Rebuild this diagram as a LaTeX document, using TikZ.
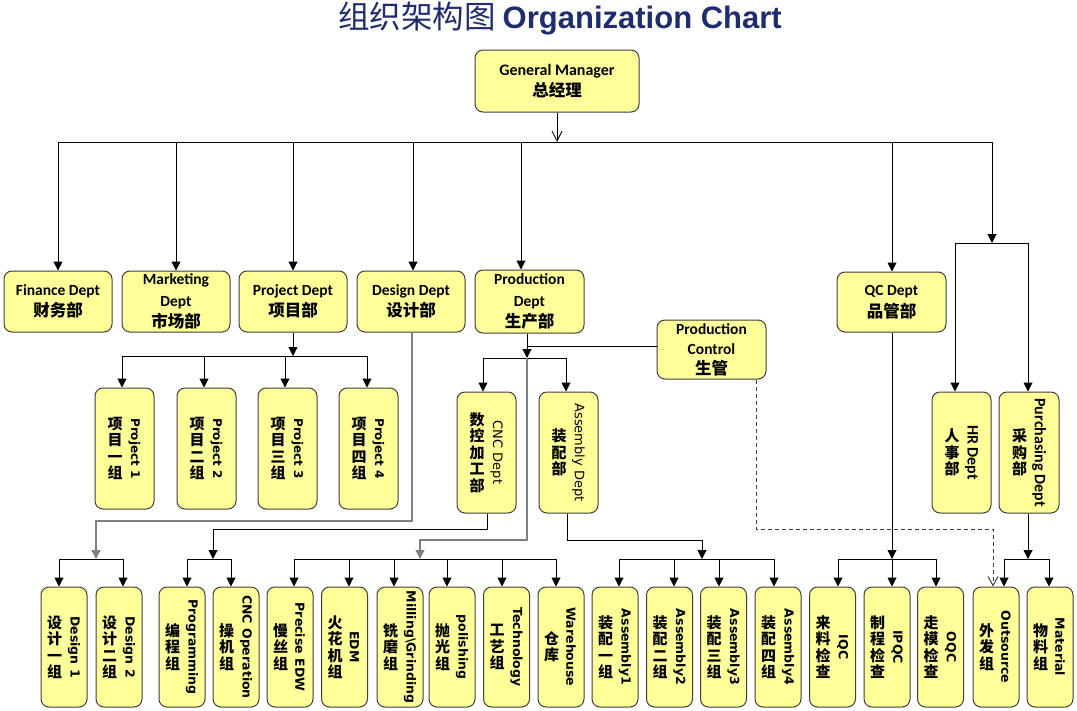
\documentclass[tikz,border=0pt]{standalone}
\usepackage{fontspec}
\setmainfont{Carlito}
\newfontfamily\cjk{Noto Sans CJK SC}
\newfontfamily\dejavu{DejaVu Sans}
\newfontfamily\titlefont{Liberation Sans}
\usetikzlibrary{arrows.meta}
\definecolor{boxfill}{HTML}{FFFF99}
\definecolor{boxdraw}{HTML}{3F3F3F}
\definecolor{navy}{HTML}{1F2D6E}
\definecolor{lgray}{HTML}{808080}
\newcommand\zh[1]{{\cjk\bfseries\fontsize{16.5}{21}\selectfont #1}}
\newcommand\vlab[4]{%
  \node[#2, rotate=-90] at ([xshift=10pt]#1.center) {#3};
  \node[zhv] at ([xshift=-9.5pt]#1.center) {#4};}
\begin{document}
\begin{tikzpicture}[x=1pt,y=-1pt,
  box/.style={draw=boxdraw, fill=boxfill, rounded corners=8pt, line width=1pt, inner sep=0pt, align=center},
  hbox/.style={box, minimum width=108pt, minimum height=61pt, font=\bfseries\fontsize{15.5}{21.5}\selectfont},
  midbox/.style={box, minimum width=59pt, minimum height=121pt},
  lowbox/.style={box, minimum width=46pt, minimum height=120pt},
  zhv/.style={font=\cjk\bfseries\fontsize{15}{16.5}\selectfont, align=center, inner sep=0pt},
  enb/.style={font=\dejavu\bfseries\fontsize{12.5}{12.5}\selectfont, inner sep=0pt},
  enp/.style={font=\dejavu\bfseries\fontsize{12}{12}\selectfont, inner sep=0pt},
  enc/.style={font=\dejavu\fontsize{13}{13}\selectfont, inner sep=0pt},
  enh/.style={font=\bfseries\fontsize{16}{16}\selectfont, inner sep=0pt},
  ln/.style={line width=1pt, draw=black},
  gln/.style={line width=1.2pt, draw=lgray},
  arr/.style={ln, -{Triangle[length=9pt,width=9pt]}},
  garr/.style={gln, -{Triangle[length=9pt,width=9pt]}},
  oarr/.style={line width=0.8pt, -{Straight Barb[length=10pt,width=10pt]}},
  dsh/.style={line width=1pt, draw=black!75, dash pattern=on 4pt off 3pt, -{Straight Barb[length=9pt,width=10pt]}}
]
\fill[white] (0,0) rectangle (1077,710);
\useasboundingbox (0,0) rectangle (1077,710);

% title
\node[text=navy, inner sep=0pt] (title) at (560,19)
  {{\cjk\fontsize{31.5}{31}\selectfont 组织架构图}\hspace{7pt}{\titlefont\bfseries\fontsize{31}{31}\selectfont Organization Chart}};

% top level
\node[hbox, minimum width=164pt, minimum height=62pt, font=\bfseries\fontsize{16}{21.5}\selectfont] (gm) at (557,81) {General Manager\\\zh{总经理}};
\node[hbox] (fin) at (58,301.5) {Finance Dept\\\zh{财务部}};
\node[hbox] (mkt) at (176,301.5) {Marketing\\Dept\\\zh{市场部}};
\node[hbox] (prj) at (293,301.5) {Project Dept\\\zh{项目部}};
\node[hbox] (des) at (411,301.5) {Design Dept\\\zh{设计部}};
\node[hbox, minimum width=109pt, minimum height=63pt] (prod) at (529.5,301.5) {Production\\Dept\\\zh{生产部}};
\node[hbox, minimum width=109pt, minimum height=59pt, font=\bfseries\fontsize{15.5}{20}\selectfont] (pc) at (711.5,349.5) {Production\\Control\\\zh{生管}};
\node[hbox, minimum width=109pt, minimum height=60pt] (qc) at (891.5,302) {QC Dept\\\zh{品管部}};

% middle vertical boxes
\node[midbox] (p1) at (124.5,448.5) {};
\node[midbox] (p2) at (206.5,448.5) {};
\node[midbox] (p3) at (287.5,448.5) {};
\node[midbox] (p4) at (368.5,448.5) {};
\node[midbox] (cnc) at (486.5,452.5) {};
\node[midbox] (asm) at (568.5,452.5) {};
\node[midbox] (hr) at (961.5,452.5) {};
\node[midbox, minimum width=60pt] (pur) at (1029,452.5) {};
\vlab{p1}{enp}{Project 1}{项\\目\\一\\组}
\vlab{p2}{enp}{Project 2}{项\\目\\二\\组}
\vlab{p3}{enp}{Project 3}{项\\目\\三\\组}
\vlab{p4}{enp}{Project 4}{项\\目\\四\\组}
\vlab{cnc}{enc}{CNC Dept}{数\\控\\加\\工\\部}
\vlab{asm}{enc}{Assembly Dept}{装\\配\\部}
\vlab{hr}{enh}{HR Dept}{人\\事\\部}
\vlab{pur}{enh}{Purchasing Dept}{采\\购\\部}

% bottom boxes
\node[lowbox] (d1) at (64,647) {};
\node[lowbox] (d2) at (119,647) {};
\node[lowbox] (prog) at (182,647) {};
\node[lowbox] (cncop) at (236,647) {};
\node[lowbox] (edw) at (290,647) {};
\node[lowbox] (edm) at (344.5,647) {};
\node[lowbox] (mill) at (400,647) {};
\node[lowbox] (pol) at (452,647) {};
\node[lowbox] (tech) at (506.5,647) {};
\node[lowbox] (wh) at (561,647) {};
\node[lowbox] (a1) at (615,647) {};
\node[lowbox] (a2) at (669.5,647) {};
\node[lowbox] (a3) at (723.5,647) {};
\node[lowbox] (a4) at (778,647) {};
\node[lowbox] (iqc) at (832.5,647) {};
\node[lowbox] (ipqc) at (887,647) {};
\node[lowbox] (oqc) at (940.5,647) {};
\node[lowbox] (out) at (996,647) {};
\node[lowbox] (mat) at (1050,647) {};
\vlab{d1}{enb}{Design 1}{设\\计\\一\\组}
\vlab{d2}{enb}{Design 2}{设\\计\\二\\组}
\vlab{prog}{enb}{Programming}{编\\程\\组}
\vlab{cncop}{enb}{CNC Operation}{操\\机\\组}
\vlab{edw}{enb}{Precise EDW}{慢\\丝\\组}
\vlab{edm}{enb}{EDM}{火\\花\\机\\组}
\vlab{mill}{enb}{Milling\textbackslash Grinding}{铣\\磨\\组}
\vlab{pol}{enb}{polishing}{抛\\光\\组}
\vlab{tech}{enb}{Technology}{工\\艺\\组}
\vlab{wh}{enb}{Warehouse}{仓\\库}
\vlab{a1}{enb}{Assembly1}{装\\配\\一\\组}
\vlab{a2}{enb}{Assembly2}{装\\配\\二\\组}
\vlab{a3}{enb}{Assembly3}{装\\配\\三\\组}
\vlab{a4}{enb}{Assembly4}{装\\配\\四\\组}
\vlab{iqc}{enb}{IQC}{来\\料\\检\\查}
\vlab{ipqc}{enb}{IPQC}{制\\程\\检\\查}
\vlab{oqc}{enb}{OQC}{走\\模\\检\\查}
\vlab{out}{enb}{Outsource}{外\\发\\组}
\vlab{mat}{enb}{Material}{物\\料\\组}

% top connectors
\coordinate (gmbus) at (557,142);
\draw[oarr] (gm.south) -- (gmbus);
\draw[ln] (58,142) -- (992,142);
\foreach \x/\n in {58/fin,176/mkt,293/prj,413/des,521/prod,892/qc}
  \draw[arr] (\x,142) -- (\x,142 |- \n.north);
\draw[arr] (992,142) -- (992,243);
\draw[ln] (955,243) -- (1028,243);
\draw[arr] (955,243) -- (955,243 |- hr.north);
\draw[arr] (1028,243) -- (1028,243 |- pur.north);

% project group
\draw[arr] (prj.south) -- (293,356);
\draw[ln] (122,356) -- (367,356);
\foreach \x/\n in {122/p1,204/p2,285/p3,367/p4}
  \draw[arr] (\x,356) -- (\x,356 |- \n.north);

% production group
\draw[arr] (527,0 |- prod.south) -- (527,358);
\draw[ln] (527,346) -- (527,346 -| pc.west);
\draw[ln] (483,358) -- (566,358);
\draw[arr] (483,358) -- (483,358 |- cnc.north);
\draw[arr] (566,358) -- (566,358 |- asm.north);

% design line
\draw[garr] (412,0 |- des.south) -- (412,521) -- (96,521) -- (96,559);
\draw[ln] (59,559) -- (123,559);
\draw[arr] (59,559) -- (59,559 |- d1.north);
\draw[arr] (123,559) -- (123,559 |- d2.north);

% CNC dept line
\draw[arr] (487,0 |- cnc.south) -- (487,529) -- (213,529) -- (213,559);
\draw[ln] (187,559) -- (231,559);
\draw[arr] (187,559) -- (187,559 |- prog.north);
\draw[arr] (231,559) -- (231,559 |- cncop.north);

% production long line
\draw[garr] (527,358) -- (527,540) -- (420,540) -- (420,559);
\draw[ln] (294,559) -- (556,559);
\foreach \x/\n in {294/edw,349/edm,394/mill,447/pol,502/tech,556/wh}
  \draw[arr] (\x,559) -- (\x,559 |- \n.north);

% assembly dept line
\draw[arr] (567,0 |- asm.south) -- (567,540) -- (702,540) -- (702,559);
\draw[ln] (619,559) -- (774,559);
\foreach \x/\n in {619/a1,674/a2,719/a3,774/a4}
  \draw[arr] (\x,559) -- (\x,559 |- \n.north);

% QC line
\draw[arr] (892,0 |- qc.south) -- (892,559);
\draw[ln] (838,559) -- (936,559);
\foreach \x/\n in {838/iqc,892/ipqc,936/oqc}
  \draw[arr] (\x,559) -- (\x,559 |- \n.north);

% purchasing line
\draw[arr] (1028,0 |- pur.south) -- (1028,559);
\draw[ln] (1004,559) -- (1049,559);
\draw[arr] (1004,559) -- (1004,559 |- out.north);
\draw[arr] (1049,559) -- (1049,559 |- mat.north);

% dashed production control line
\draw[dsh] (756,0 |- pc.south) -- (756,529) -- (993,529) -- (993,0 |- out.north);
\end{tikzpicture}
\end{document}
